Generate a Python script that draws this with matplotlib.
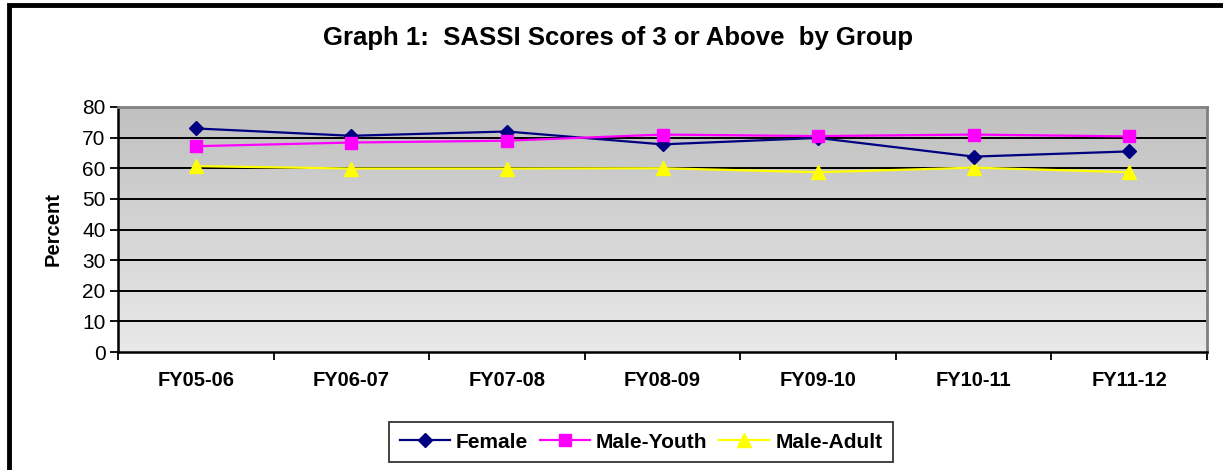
import matplotlib.pyplot as plt
import numpy as np
from matplotlib.patches import Rectangle
from matplotlib.colors import LinearSegmentedColormap

plt.rcParams['font.family'] = ['Liberation Sans', 'DejaVu Sans']

years = ['FY05-06', 'FY06-07', 'FY07-08', 'FY08-09', 'FY09-10', 'FY10-11', 'FY11-12']
female = [73.0, 70.6, 72.0, 67.8, 69.9, 63.8, 65.5]
male_youth = [67.2, 68.4, 69.0, 71.0, 70.5, 71.0, 70.4]
male_adult = [60.7, 59.9, 59.9, 60.0, 58.7, 60.2, 58.7]

W, H = 1223, 470
fig = plt.figure(figsize=(W / 100, H / 100), dpi=100)

# plot area in pixels: left 118, right 1207, top 107, bottom 352
ax = fig.add_axes([118 / W, 1 - 352 / H, (1207 - 118) / W, (352 - 107) / H])

# gradient background, darker at the top
grad = np.linspace(0, 1, 256).reshape(-1, 1)
cm = LinearSegmentedColormap.from_list('g', ['#e9e9e9', '#c0c0c0'])
ax.imshow(grad, extent=[-0.5, 6.5, 0, 80], aspect='auto', cmap=cm,
          origin='lower', zorder=0)

x = np.arange(len(years))
for v in range(10, 80, 10):
    ax.axhline(v, color='black', lw=1.4, zorder=1)

ax.plot(x, female, color='#000080', marker='D', ms=7, lw=1.6, label='Female', zorder=3)
ax.plot(x, male_youth, color='#ff00ff', marker='s', ms=8, lw=1.6, label='Male-Youth', zorder=4)
ax.plot(x, male_adult, color='#ffff00', marker='^', ms=10, lw=1.6, label='Male-Adult', zorder=2)

ax.set_xlim(-0.5, 6.5)
ax.set_ylim(0, 80)
ax.set_yticks(range(0, 81, 10))
ax.tick_params(axis='y', labelsize=15, length=6, width=1.3, pad=3)

ax.set_xticks(np.arange(-0.5, 7, 1))
ax.set_xticklabels([])
ax.tick_params(axis='x', length=6, width=1.3, direction='out')
ax.set_xticks(x, minor=True)
ax.set_xticklabels(years, minor=True, fontsize=14.5, fontweight='bold')
ax.tick_params(axis='x', which='minor', length=0, pad=14)

for side in ['left', 'bottom']:
    ax.spines[side].set_linewidth(1.8)
for side in ['top', 'right']:
    ax.spines[side].set_color('#808080')
    ax.spines[side].set_linewidth(2)

ax.set_ylabel('Percent', fontsize=14.5, fontweight='bold', labelpad=14)

fig.text(618 / W, 1 - 38 / H, 'Graph 1:  SASSI Scores of 3 or Above  by Group',
         ha='center', va='center', fontsize=18.5, fontweight='bold')

leg = fig.legend(loc='center', bbox_to_anchor=(641 / W, 1 - 442 / H), ncol=3,
                 frameon=True, fancybox=False, edgecolor='black',
                 prop={'weight': 'bold', 'size': 15}, handlelength=2.4,
                 columnspacing=0.55, handletextpad=0.3, borderpad=0.5,
                 borderaxespad=0)
leg.get_frame().set_linewidth(1.3)

# outer chart border
fig.patches.append(Rectangle((9 / W, -0.05), 1.1, 1 - 5 / H + 0.05,
                             transform=fig.transFigure, fill=False,
                             edgecolor='black', lw=3.5))

plt.savefig('out.png', dpi=100)
